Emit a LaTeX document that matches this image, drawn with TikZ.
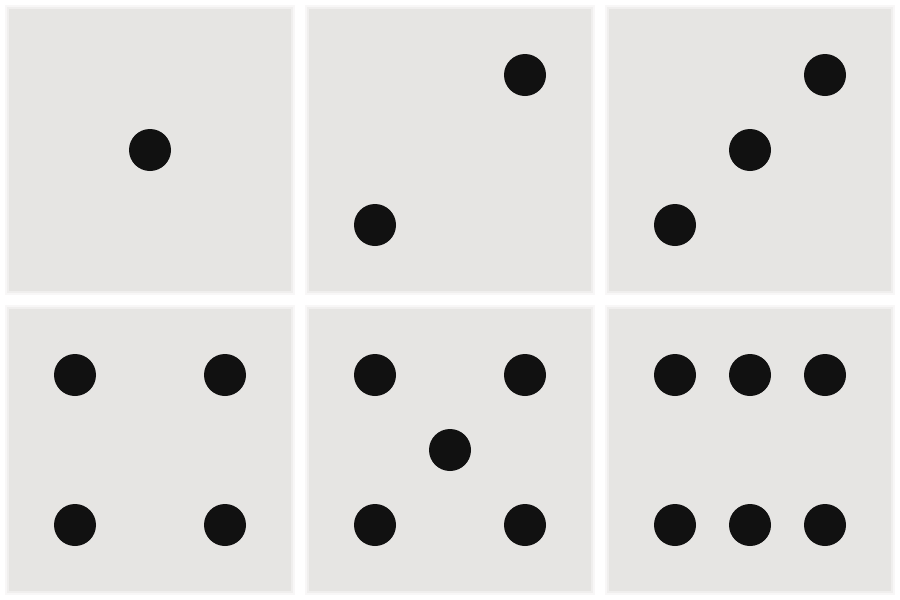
\documentclass[tikz,border=0pt]{standalone}
\begin{document}
\begin{tikzpicture}[x=1pt,y=-1pt,
  pip/.style={circle,fill=pipcol,draw=none,minimum size=42pt,inner sep=0pt},
]
\definecolor{facecol}{RGB}{230,229,227}
\definecolor{pipcol}{RGB}{17,17,17}
\fill[white] (0,0) rectangle (900,600);
\useasboundingbox (0,0) rectangle (900,600);
\foreach \c in {0,1,2}{
  \foreach \r in {0,1}{
    \pgfmathsetmacro{\xa}{300*\c}
    \pgfmathsetmacro{\ya}{300*\r}
    \fill[facecol!30] (\xa+5,\ya+5) rectangle (\xa+295,\ya+295);
    \fill[facecol!60] (\xa+7,\ya+7) rectangle (\xa+293,\ya+293);
    \fill[facecol] (\xa+9,\ya+9) rectangle (\xa+291,\ya+291);
  }
}
% face 1
\node[pip] (f1c) at (150,150) {};
% face 2
\node[pip] (f2a) at (525,75) {};
\node[pip] (f2b) at (375,225) {};
% face 3
\node[pip] (f3a) at (825,75) {};
\node[pip] (f3b) at (750,150) {};
\node[pip] (f3c) at (675,225) {};
% face 4
\node[pip] (f4a) at (75,375) {};
\node[pip] (f4b) at (225,375) {};
\node[pip] (f4c) at (75,525) {};
\node[pip] (f4d) at (225,525) {};
% face 5
\node[pip] (f5a) at (375,375) {};
\node[pip] (f5b) at (525,375) {};
\node[pip] (f5c) at (450,450) {};
\node[pip] (f5d) at (375,525) {};
\node[pip] (f5e) at (525,525) {};
% face 6
\node[pip] (f6a) at (675,375) {};
\node[pip] (f6b) at (750,375) {};
\node[pip] (f6c) at (825,375) {};
\node[pip] (f6d) at (675,525) {};
\node[pip] (f6e) at (750,525) {};
\node[pip] (f6f) at (825,525) {};
\end{tikzpicture}
\end{document}
